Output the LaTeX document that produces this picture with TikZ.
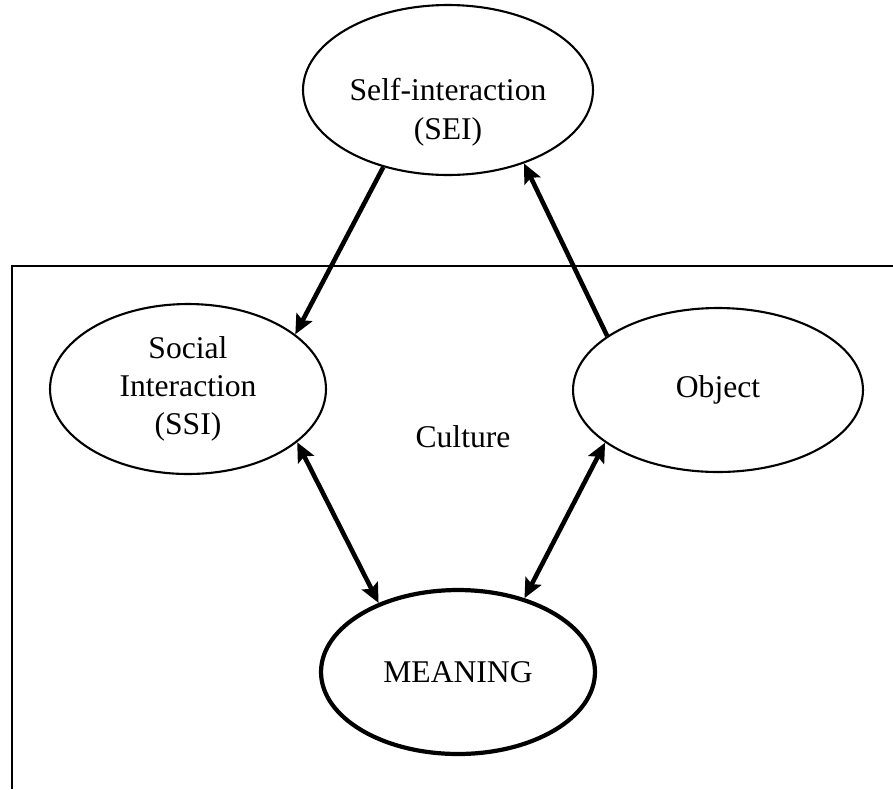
\documentclass[tikz,border=0pt]{standalone}
\usepackage{fontspec}
\setmainfont{Liberation Serif}
\usetikzlibrary{shapes.geometric,arrows.meta}
\tikzset{txt/.style={align=center, font=\fontsize{18}{21.5}\selectfont},
  bubble/.style={draw, ellipse, line width=1.2pt, inner sep=0pt, txt},
  link/.style={line width=2.6pt, -{Stealth[length=11pt, width=10pt, inset=2pt]}},
  twoway/.style={link, {Stealth[length=11pt, width=10pt, inset=2pt]}-{Stealth[length=11pt, width=10pt, inset=2pt]}}}

\begin{document}
\begin{tikzpicture}[x=0.02cm, y=-0.02cm]
    \useasboundingbox (0,0) rectangle (893,789);
    % culture box, open to the right and bottom
    \draw [line width=1.2pt] (12,789) -- (12,266) -- (893,266);
    \node [bubble, minimum width=5.8cm, minimum height=3.4cm,
      label={[txt, font=\fontsize{18}{22.5}\selectfont, yshift=-0.44cm]center:Self-interaction\\(SEI)}] (sei) at (448,90) {};
    \node [bubble, minimum width=5.52cm, minimum height=3.4cm] (ssi) at (188,389) {Social\\Interaction\\(SSI)};
    \node [bubble, minimum width=5.8cm, minimum height=3.28cm] (obj) at (718,390) {Object};
    \node [bubble, line width=2.4pt, minimum width=5.48cm, minimum height=3.28cm] (meaning) at (458,672) {MEANING};
    \node [txt] (culture) at (463,437) {Culture};
    \draw [link] (sei.230) -- (ssi.27);
    \draw [link] (obj.154.5) -- (sei.316);
    \draw [twoway] (ssi.334) -- (meaning.139.6);
    \draw [twoway] (obj.205) -- (meaning.48.7);
\end{tikzpicture}
\end{document}
